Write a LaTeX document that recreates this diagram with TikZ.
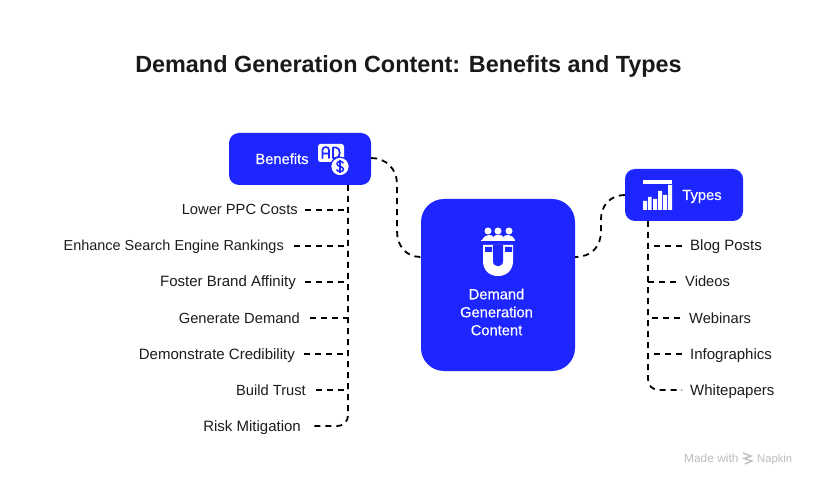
\documentclass[tikz,border=0pt]{standalone}
\usepackage{fontspec}
\setmainfont{Liberation Sans}
\newfontfamily\medfont[FakeBold=0.25]{Liberation Sans}
\definecolor{brand}{HTML}{1E26FF}
\definecolor{ink}{HTML}{1C1C1C}
\definecolor{wmgray}{HTML}{BDBDBD}
\tikzset{
  box/.style={fill=brand,draw=none,text=white,align=center,inner sep=0pt},
  lab/.style={font=\fontsize{14.7}{18}\selectfont,text=ink,inner ysep=0pt,text height=12.5pt,text depth=2.5pt},
  labl/.style={lab,anchor=east},
  labr/.style={lab,anchor=west},
  link/.style={draw=black,line width=1.8pt,dash pattern=on 6pt off 5pt},
  boxtext/.style={font=\medfont\fontsize{14.7}{18}\selectfont,text=white,inner sep=0pt},
  wm/.style={text=wmgray,inner sep=0pt,anchor=west,text height=9.5pt,text depth=2.5pt},
}
\begin{document}
\begin{tikzpicture}[x=1pt,y=-1pt]
\useasboundingbox (0,0) rectangle (816,486);
\fill[white] (0,0) rectangle (816,486);
\node[font=\bfseries\fontsize{23.4}{28}\selectfont,text=black!90,inner sep=0pt] (title) at (408.5,66) {Demand Generation Content: Benefits and Types};

% boxes
\node[box,rounded corners=10pt,minimum width=142pt,minimum height=52pt] (ben) at (300,159) {};
\node[box,rounded corners=23pt,minimum width=154pt,minimum height=172pt] (dgc) at (498,285) {};
\node[box,rounded corners=10pt,minimum width=118pt,minimum height=52pt] (typ) at (684,195) {};
\node[boxtext,text height=12.5pt,text depth=2.5pt] (bent) at (282,159) {Benefits};
\node[boxtext,text height=12.5pt,text depth=2.5pt] (typt) at (702,195) {Types};
\node[boxtext,align=center] (dgct) at (496.5,312) {Demand\\Generation\\Content};

% trunk anchors
\coordinate (bt) at (348,185);
\coordinate (tt) at (648,221);

% benefit labels: the node east edge is where the connector stops
\node[labl,inner xsep=7pt] (b1) at (305,210) {Lower PPC Costs};
\node[labl,inner xsep=10pt,font=\fontsize{14.45}{18}\selectfont] (b2) at (294,246) {Enhance Search Engine Rankings};
\node[labl,inner xsep=9pt,font=\fontsize{15}{18}\selectfont] (b3) at (305,282) {Foster Brand Affinity};
\node[labl,inner xsep=10pt] (b4) at (310,318) {Generate Demand};
\node[labl,inner xsep=9pt,font=\fontsize{15}{18}\selectfont] (b5) at (304,354) {Demonstrate Credibility};
\node[labl,inner xsep=10pt] (b6) at (316,390) {Build Trust};
\node[labl,inner xsep=12pt,font=\fontsize{15}{18}\selectfont] (b7) at (313,426) {Risk Mitigation};

% type labels
\node[labr,inner xsep=8pt,font=\fontsize{15}{18}\selectfont] (t1) at (682,246) {Blog Posts};
\node[labr,inner xsep=9pt] (t2) at (676,282) {Videos};
\node[labr,inner xsep=9pt] (t3) at (680,318) {Webinars};
\node[labr,inner xsep=8pt,font=\fontsize{15}{18}\selectfont] (t4) at (682,354) {Infographics};
\node[labr,inner xsep=8pt,font=\fontsize{15}{18}\selectfont] (t5) at (682,390) {Whitepapers};

% connectors
\draw[link] (ben.east |- 0,158) .. controls (386,158) and (397,169) .. (397,184) -- (397,231) .. controls (397,246) and (406,257) .. (dgc.west |- 0,257);
\draw[link] (typ.west) .. controls (610,195) and (601,206) .. (601,219) -- (601,231) .. controls (601,246) and (592,257) .. (dgc.east |- 0,257);
\draw[link] (bt) -- (348,414) .. controls (348,422) and (344,426) .. (336,426) -- (b7.east);
\foreach \n in {1,...,6}{\draw[link] (b\n.east) -- (b\n.east -| bt);}
\draw[link] (tt) -- (648,378) .. controls (648,386) and (652,390) .. (660,390) -- (t5.west);
\foreach \n in {1,...,4}{\draw[link] (t\n.west) -- (t\n.west -| tt);}

% benefits icon
\fill[white,rounded corners=2.5pt] (318,144) rectangle (344,162);
\draw[brand,line width=1.7pt,line cap=round,line join=round] (322.5,158) -- (322.5,150) .. controls (322.5,146) and (329,146) .. (329,150) -- (329,158) (322.5,153.5) -- (329,153.5);
\draw[brand,line width=1.7pt,line join=round] (333,147.5) -- (336,147.5) .. controls (341,147.5) and (341,158) .. (336,158) -- (333,158) -- cycle;
\fill[brand] (340,166.5) circle (10pt);
\fill[white] (340,166.5) circle (8.6pt);
\draw[brand,line width=1.5pt] (343.4,163.2) .. controls (342,160.6) and (337,161) .. (337,163.8) .. controls (337,167) and (343.5,166) .. (343.5,169.3) .. controls (343.5,172.2) and (338,172.4) .. (336.6,169.6);
\draw[brand,line width=1.3pt] (340,159.8) -- (340,173.4);

% centre icon
\fill[white] (488,231) circle (3.5pt) (498,231) circle (3.5pt) (509,231) circle (3.5pt);
\fill[white] (482,240) .. controls (484,234) and (493,234) .. (493.5,237) .. controls (495,234) and (502,234) .. (503.5,237) .. controls (504,234) and (513,234) .. (515,240) -- cycle;
\fill[white] (481,240.5) rectangle (514.5,241.5);
\fill[white] (483,245) -- (513,245) -- (513,261) .. controls (513,270) and (507,276) .. (498,276) .. controls (489,276) and (483,270) .. (483,261) -- cycle;
\fill[brand] (493,245) -- (503,245) -- (503,261) .. controls (503,268) and (493,268) .. (493,261) -- cycle;
\fill[brand] (485,247) rectangle (492,252) (505,247) rectangle (512,252);

% types icon
\fill[white] (643,180) rectangle (672,184);
\fill[white] (643,201) rectangle (647,210) (648,197) rectangle (651.5,210) (653,199) rectangle (657,210) (658,191) rectangle (662,210) (663,195) rectangle (667,210) (668,185) rectangle (672,210);

% watermark
\node[wm,font=\fontsize{11.9}{12}\selectfont] (m1) at (684,458.5) {Made with};
\node[wm,font=\fontsize{11.2}{12}\selectfont] (m2) at (757,458.5) {Napkin};
\draw[wmgray,line width=1.3pt] (743,453) -- (751,456) -- (744,458.5) -- (752,461) -- (745,464);
\end{tikzpicture}
\end{document}
